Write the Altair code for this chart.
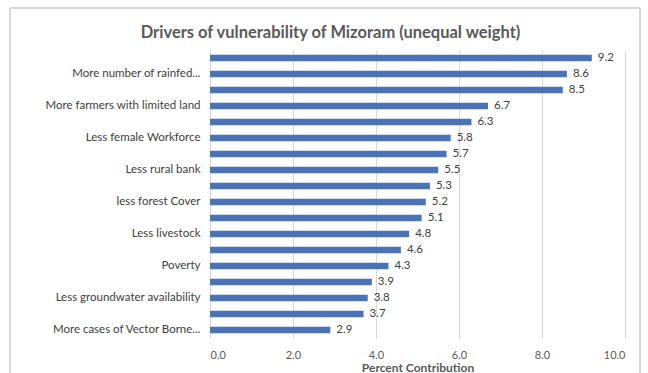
import altair as alt
import pandas as pd

drivers = ["_d1", "More number of rainfed...", "_d3", "More farmers with limited land",
           "_d5", "Less female Workforce", "_d7", "Less rural bank", "_d9",
           "less forest Cover", "_d11", "Less livestock", "_d13", "Poverty", "_d15",
           "Less groundwater availability", "_d17", "More cases of Vector Borne..."]
values = [9.2, 8.6, 8.5, 6.7, 6.3, 5.8, 5.7, 5.5, 5.3, 5.2, 5.1, 4.8, 4.6, 4.3, 3.9, 3.8, 3.7, 2.9]
x_ticks = [0, 2, 4, 6, 8, 10]

df = pd.DataFrame({"driver": drivers, "value": values})

FONT = "Lato"
TXT = "#404040"

y_enc = alt.Y("driver:N", sort=None,
              scale=alt.Scale(paddingInner=0.6, paddingOuter=0.3),
              axis=alt.Axis(title=None, labelExpr="indexof(datum.value, '_d') == 0 ? '' : datum.value",
                            labelFont=FONT, labelFontSize=11.5, labelColor=TXT, labelPadding=10,
                            ticks=False, domain=True, domainColor="#d9d9d9", grid=False,
                            labelLimit=200))
x_enc = alt.X("value:Q", scale=alt.Scale(domain=[0, 10], nice=False),
              axis=alt.Axis(title="Percent Contribution", values=x_ticks, format=".1f",
                            labelFont=FONT, labelFontSize=11, labelColor="#595959",
                            titleFont=FONT, titleFontSize=12, titleColor="#595959",
                            titleFontWeight="bold", titlePadding=2,
                            grid=True, gridColor="#d9d9d9", domain=False, ticks=False,
                            labelPadding=11))

bars = alt.Chart(df).mark_bar(color="#4a72b5").encode(x=x_enc, y=y_enc)
labels = alt.Chart(df).mark_text(align="left", dx=6, font=FONT, fontSize=11.5, color=TXT).encode(
    x="value:Q", y=alt.Y("driver:N", sort=None), text=alt.Text("value:Q", format=".1f"))
frame = alt.Chart(df).mark_rect(fill=None, stroke="#d9d9d9", strokeWidth=1).encode(
    x=alt.value(-200), x2=alt.value(430), y=alt.value(-42), y2=alt.value(340))

chart = alt.layer(frame, bars, labels).properties(
    width=415, height=288,
    autosize=alt.AutoSizeParams(type="none"),
    padding={"left": 210, "top": 50, "right": 23, "bottom": 35},
    title=alt.TitleParams("Drivers of vulnerability of Mizoram (unequal weight)",
                          font=FONT, fontSize=16.5, fontWeight="bold", color="#595959",
                          anchor="middle", frame="group", dx=-87, offset=-34),
).configure_view(stroke=None)

chart.save("out.html", embed_options={"renderer": "svg", "actions": False})
